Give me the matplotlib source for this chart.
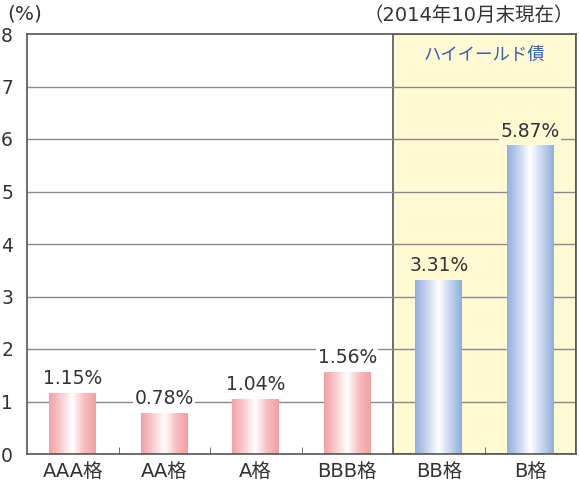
import matplotlib
matplotlib.use("Agg")
import matplotlib.pyplot as plt
import numpy as np
from matplotlib.colors import LinearSegmentedColormap
from matplotlib.patches import Rectangle

plt.rcParams['font.family'] = ['DejaVu Sans', 'Noto Sans CJK JP']

categories = ["AAA格", "AA格", "A格", "BBB格", "BB格", "B格"]
values = [1.15, 0.78, 1.04, 1.56, 3.31, 5.87]
labels = ["1.15%", "0.78%", "1.04%", "1.56%", "3.31%", "5.87%"]
high_yield = [False, False, False, False, True, True]
yticks = [0, 1, 2, 3, 4, 5, 6, 7, 8]

fig = plt.figure(figsize=(5.79, 4.88), dpi=100)
ax = fig.add_axes([27/579, 1-454/488, 549/579, 420/488])
ax.set_xlim(-0.5, len(categories)-0.5)
ax.set_ylim(0, 8)

text_col = "#333333"
# high-yield region
ax.add_patch(Rectangle((3.5, 0), 2.0, 8, facecolor="#fff9d4", edgecolor="#555555",
                       linewidth=1.2, zorder=0.5))
ax.text(4.5, 7.6, "ハイイールド債", ha="center", va="center", fontsize=12.5,
        color="#3a5ea8", zorder=5, family=['Noto Sans CJK JP'])

for y in yticks[1:-1]:
    ax.axhline(y, color="#8a8a8a", linewidth=1.0, zorder=1)

pink = LinearSegmentedColormap.from_list("p", ["#f4a0a4", "#f9cbce", "#ffffff", "#f7bdc0", "#f29fa3"])
blue = LinearSegmentedColormap.from_list("b", ["#91afdc", "#c5d4ee", "#ffffff", "#c6d5ee", "#90aedb"])
grad = np.linspace(0, 1, 256).reshape(1, -1)

width = 0.51
bars = ax.bar(range(len(categories)), values, width=width, color="none", zorder=2)
for b, v, hy, lab in zip(bars, values, high_yield, labels):
    x0 = b.get_x()
    ax.imshow(grad, cmap=blue if hy else pink, aspect="auto",
              extent=(x0, x0 + width, 0, v), zorder=2, interpolation="bicubic")
    bg = "#fff9d4" if hy else "white"
    ax.text(b.get_x() + width/2, v + 0.1, lab, ha="center", va="bottom", fontsize=13.5,
            color=text_col, zorder=4,
            bbox=dict(facecolor=bg, edgecolor="none", pad=1.0))

ax.set_xlim(-0.5, len(categories)-0.5)
ax.set_ylim(0, 8)
ax.set_yticks(yticks)
ax.set_yticklabels([str(t) for t in yticks], fontsize=13.5, color=text_col)
ax.set_xticks(range(len(categories)))
ax.set_xticklabels(categories, fontsize=14, color=text_col)
ax.tick_params(axis="x", length=0, pad=6)
ax.tick_params(axis="y", length=0, pad=10)
ax.set_xticks([i + 0.5 for i in range(len(categories)-1)], minor=True)
ax.tick_params(axis="x", which="minor", direction="in", length=5, color="#555555")

for s in ax.spines.values():
    s.set_color("#555555")
    s.set_linewidth(1.2)

fig.text(7/579, 1-14/488, "(%)", fontsize=14.5, color=text_col, ha="left", va="center")
fig.text(574/579, 1-15/488, "（2014年10月末現在）", fontsize=14, color=text_col,
         ha="right", va="center")

fig.savefig("out.png", dpi=100)
